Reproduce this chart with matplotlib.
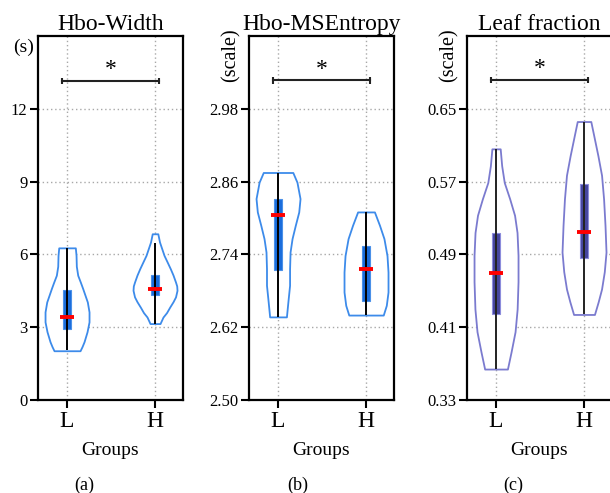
import matplotlib.pyplot as plt
import numpy as np

plt.rcParams['font.family'] = ['Liberation Serif', 'DejaVu Serif']

groups = ["L", "H"]
positions = [1, 2]

# density profiles (value, relative half-width) for each violin
width_L_coords = [2.03, 2.20, 2.40, 2.81, 3.22, 3.63, 4.04, 4.59, 4.86, 5.14, 5.51, 5.96, 6.27]
width_L_dens = [13.0, 15.0, 17.0, 20.0, 22.0, 22.0, 20.3, 15.7, 13.3, 10.7, 9.3, 9.0, 8.3]
width_H_coords = [3.15, 3.42, 3.60, 3.83, 4.05, 4.25, 4.52, 4.70, 4.86, 5.15, 5.41, 5.70, 5.96, 6.51, 6.85]
width_H_dens = [5.0, 8.0, 11.5, 14.7, 18.0, 20.5, 22.0, 21.7, 20.5, 18.0, 15.3, 12.0, 9.0, 4.5, 2.8]

mse_L_coords = [2.637, 2.662, 2.689, 2.7165, 2.744, 2.766, 2.788, 2.810, 2.832, 2.859, 2.875]
mse_L_dens = [8.5, 10.0, 11.7, 11.7, 12.2, 14.2, 17.5, 21.0, 22.3, 19.2, 15.0]
mse_H_coords = [2.640, 2.656, 2.678, 2.711, 2.738, 2.766, 2.788, 2.810]
mse_H_dens = [17.0, 20.0, 21.7, 21.7, 20.7, 17.7, 13.3, 8.3]

leaf_L_coords = [0.364, 0.383, 0.405, 0.430, 0.460, 0.489, 0.514, 0.533, 0.551, 0.569, 0.5875, 0.606]
leaf_L_dens = [11.5, 15.2, 19.2, 21.3, 22.2, 22.2, 21.2, 18.7, 13.8, 8.3, 5.7, 4.2]
leaf_H_coords = [0.424, 0.438, 0.452, 0.471, 0.4925, 0.522, 0.551, 0.577, 0.5985, 0.620, 0.636]
leaf_H_dens = [10.3, 14.0, 17.3, 20.0, 21.7, 20.7, 19.3, 17.3, 13.7, 9.7, 6.7]

# box stats: q1, median, q3, whisker low, whisker high
width_q1 = [2.92, 4.33]
width_med = [3.43, 4.56]
width_q3 = [4.53, 5.15]
width_lo = [2.05, 3.15]
width_hi = [6.27, 6.45]

mse_q1 = [2.714, 2.664]
mse_med = [2.805, 2.716]
mse_q3 = [2.831, 2.754]
mse_lo = [2.637, 2.640]
mse_hi = [2.875, 2.810]

leaf_q1 = [0.425, 0.486]
leaf_med = [0.4695, 0.515]
leaf_q3 = [0.514, 0.5675]
leaf_lo = [0.364, 0.424]
leaf_hi = [0.606, 0.636]

titles = ["Hbo-Width", "Hbo-MSEntropy", "Leaf fraction"]
units = ["(s)", "(scale)", "(scale)"]
yticks = [[0, 3, 6, 9, 12], [2.50, 2.62, 2.74, 2.86, 2.98], [0.33, 0.41, 0.49, 0.57, 0.65]]
ylims = [(0, 15), (2.50, 3.10), (0.33, 0.73)]
yfmt = ["{:.0f}", "{:.2f}", "{:.2f}"]
sig_y = [13.15, 3.027, 0.6815]
panel_tags = ["(a)", "(b)", "(c)"]

panels = [
    dict(coords=[width_L_coords, width_H_coords], dens=[width_L_dens, width_H_dens],
         q1=width_q1, med=width_med, q3=width_q3, lo=width_lo, hi=width_hi,
         line="#3d8bea", box="#1a6ddc", box_edge="#4a90e8", whisk="black"),
    dict(coords=[mse_L_coords, mse_H_coords], dens=[mse_L_dens, mse_H_dens],
         q1=mse_q1, med=mse_med, q3=mse_q3, lo=mse_lo, hi=mse_hi,
         line="#3d8bea", box="#1a6ddc", box_edge="#4a90e8", whisk="black"),
    dict(coords=[leaf_L_coords, leaf_H_coords], dens=[leaf_L_dens, leaf_H_dens],
         q1=leaf_q1, med=leaf_med, q3=leaf_q3, lo=leaf_lo, hi=leaf_hi,
         line="#7b7bcf", box="#45459e", box_edge="#8c8cdc", whisk="#222222"),
]

fig = plt.figure(figsize=(6.1, 4.93), dpi=100)
lefts = [38 / 610, 249 / 610, 467 / 610]
ax_w = 145 / 610
ax_b = 93 / 493
ax_h = 364 / 493
tag_x = [84 / 610, 297.7 / 610, 513 / 610]

for i, p in enumerate(panels):
    ax = fig.add_axes([lefts[i], ax_b, ax_w, ax_h])
    ax.set_axisbelow(True)
    ax.grid(True, linestyle=(0, (1, 2)), color="#a8a8a8", linewidth=1.0)

    vpstats = []
    for c, d, lo, hi, m in zip(p["coords"], p["dens"], p["lo"], p["hi"], p["med"]):
        vpstats.append(dict(coords=np.array(c), vals=np.array(d), mean=m,
                            median=m, min=c[0], max=c[-1]))
    parts = ax.violin(vpstats, positions=positions, widths=0.5,
                      showextrema=False, showmeans=False, showmedians=False)
    for body in parts["bodies"]:
        body.set_facecolor("white")
        body.set_edgecolor(p["line"])
        body.set_linewidth(1.3)
        body.set_alpha(1)

    ax.bar(positions, np.array(p["q3"]) - np.array(p["q1"]), bottom=p["q1"],
           width=0.085, color=p["box"], edgecolor=p["box_edge"], linewidth=0.8,
           zorder=3)
    ax.vlines(positions, p["lo"], p["hi"], color=p["whisk"], linewidth=1.4, zorder=4)
    ax.hlines(p["med"], np.array(positions) - 0.075, np.array(positions) + 0.075,
              color="#ff0000", linewidth=2.8, zorder=5)

    # significance bracket
    y = sig_y[i]
    dy = (ylims[i][1] - ylims[i][0]) * 0.009
    ax.plot([0.945, 2.045], [y, y], color="#222222", linewidth=1.5)
    ax.vlines([0.945, 2.045], y - dy, y + dy, color="#222222", linewidth=1.5)
    ax.text(1.495, y + dy * 0.2, "*", ha="center", va="bottom", fontsize=17)

    ax.set_xlim(0.67, 2.318)
    ax.set_ylim(*ylims[i])
    ax.set_xticks(positions)
    ax.set_xticklabels(groups)
    ax.set_yticks(yticks[i])
    ax.set_yticklabels([yfmt[i].format(v) for v in yticks[i]])
    ax.tick_params(axis="x", direction="out", length=6, width=1.5, labelsize=17, pad=2)
    ax.tick_params(axis="y", direction="out", length=6, width=1.5, labelsize=12, pad=1.5)
    for s in ax.spines.values():
        s.set_linewidth(1.6)

    ax.set_title(titles[i], fontsize=17, pad=4.5)
    ax.set_xlabel("Groups", fontsize=14, labelpad=7)
    if units[i] == "(s)":
        ax.text(-0.103, 0.97, units[i], transform=ax.transAxes, ha="center",
                va="center", fontsize=14)
    else:
        ax.text(-0.125, 0.948, units[i], transform=ax.transAxes, ha="center",
                va="center", rotation=90, fontsize=14.5)

    fig.text(tag_x[i], 1 - 485 / 493, panel_tags[i], ha="center", va="center",
             fontsize=13)

fig.savefig("out.png", dpi=100)
